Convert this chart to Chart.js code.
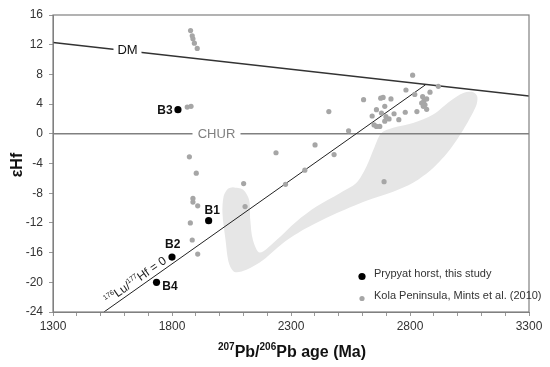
<!DOCTYPE html>
<html>
<head>
  <meta charset="UTF-8">
  <title>eHf vs age</title>
  <script src="https://cdn.jsdelivr.net/npm/chart.js"></script>
  <style>
    body { margin: 0; background: #fff; }
    #wrap { width: 550px; height: 367px; }
  </style>
</head>
<body>
<div id="wrap"><canvas id="hfChart" width="550" height="367"></canvas></div>
<script>
  // reference lines
  const dmAges = [1300, 3300];
  const dmHf = [12.3, 5.1];
  const churAges = [1300, 3300];
  const churHf = [0, 0];
  const luHfAges = [1514, 2865];
  const luHfHf = [-24, 6.6];

  // Prypyat horst samples
  const sampleNames = ['B1', 'B2', 'B3', 'B4'];
  const sampleAges = [1954, 1800, 1825, 1735];
  const sampleHf = [-11.7, -16.6, 3.25, -20.0];

  // Kola Peninsula, Mints et al. (2010)
  const kolaAges = [1878, 1885, 1888, 1894, 1906, 1864, 1880, 1873, 1902, 1888, 1888, 1908,
    1877, 1885, 1908, 2101, 2107, 2237, 2277, 2358, 2401, 2481, 2459, 2542, 2605, 2691,
    2641, 2659, 2677, 2687, 2720, 2694, 2680, 2699, 2712, 2694, 2733, 2753, 2649, 2659,
    2673, 2780, 2829, 2783, 2811, 2820, 2884, 2919, 2853, 2858, 2870, 2849, 2863, 2856, 2870];
  const kolaHf = [13.9, 13.2, 12.8, 12.2, 11.5, 3.6, 3.7, -3.1, -5.3, -8.7, -9.2, -9.7,
    -12.0, -14.3, -16.2, -6.7, -9.8, -2.55, -6.8, -4.9, -1.5, -2.8, 3.0, 0.4, 4.6, -6.45,
    2.4, 3.25, 4.8, 4.9, 4.7, 3.7, 2.8, 2.3, 2.0, 1.7, 2.7, 1.9, 1.2, 1.0,
    1.0, 2.9, 3.0, 5.9, 7.9, 5.3, 5.6, 6.4, 5.0, 4.4, 4.7, 4.15, 3.9, 3.7, 3.3];

  // shaded field outline
  const fieldAges = [2056, 2098, 2124, 2129, 2140, 2169, 2239, 2323, 2407, 2505, 2575, 2617,
    2652, 2680, 2729, 2813, 2897, 2968, 3024, 3066, 3083, 3077, 3024, 2968, 2897, 2813,
    2729, 2617, 2477, 2365, 2267, 2183, 2113, 2063, 2039, 2025, 2012, 2017, 2035, 2056];
  const fieldHf = [-7.2, -7.5, -8.9, -11.6, -14.3, -16.0, -14.3, -11.8, -9.8, -8.0, -6.6, -4.4,
    -1.7, 0.1, 0.8, 1.45, 2.6, 4.4, 5.5, 5.6, 5.0, 3.7, 0.55, -2.1, -4.6, -6.6,
    -7.8, -9.0, -10.9, -12.7, -14.7, -17.0, -18.3, -18.6, -17.4, -14.3, -10.7, -8.4, -7.4, -7.2];

  const pts = (xs, ys) => xs.map((x, i) => ({ x: x, y: ys[i] }));

  const font = "'Liberation Sans', Arial, sans-serif";

  // draw text with smaller raised parts: [[text, isSup], ...]
  function drawRich(ctx, parts, x, y, size, supSize, weight, align) {
    let total = 0;
    parts.forEach(p => {
      ctx.font = weight + ' ' + (p[1] ? supSize : size) + 'px ' + font;
      total += ctx.measureText(p[0]).width;
    });
    let cx = align === 'center' ? x - total / 2 : x;
    ctx.textBaseline = 'alphabetic';
    ctx.textAlign = 'left';
    parts.forEach(p => {
      ctx.font = weight + ' ' + (p[1] ? supSize : size) + 'px ' + font;
      ctx.fillText(p[0], cx, p[1] ? y - size * 0.42 : y);
      cx += ctx.measureText(p[0]).width;
    });
  }

  const decorPlugin = {
    id: 'decor',
    afterDatasetsDraw(chart) {
      const ctx = chart.ctx;
      const xs = chart.scales.x, ys = chart.scales.y;
      const a = chart.chartArea;
      ctx.save();

      // frame
      ctx.strokeStyle = '#808080';
      ctx.lineWidth = 1.2;
      ctx.strokeRect(a.left, a.top, a.right - a.left, a.bottom - a.top);

      // DM label on the line
      ctx.font = '13px ' + font;
      ctx.textAlign = 'center';
      ctx.textBaseline = 'middle';
      let px = xs.getPixelForValue(1613);
      let py = ys.getPixelForValue(dmHf[0] + (dmHf[1] - dmHf[0]) * (1613 - 1300) / 2000);
      ctx.fillStyle = '#fff';
      ctx.fillRect(px - 14, py - 7, 28, 14);
      ctx.fillStyle = '#111';
      ctx.fillText('DM', px, py);

      // CHUR label
      px = xs.getPixelForValue(1987);
      py = ys.getPixelForValue(0);
      ctx.font = '13px ' + font;
      ctx.fillStyle = '#fff';
      ctx.fillRect(px - 24, py - 7, 48, 14);
      ctx.fillStyle = '#808080';
      ctx.fillText('CHUR', px, py + 0.5);

      // sample labels
      const offs = [[3.5, -10], [0.7, -12], [-13, 1], [13.5, 4.7]];
      ctx.font = 'bold 12px ' + font;
      ctx.fillStyle = '#111';
      sampleNames.forEach((n, i) => {
        const sx = xs.getPixelForValue(sampleAges[i]);
        const sy = ys.getPixelForValue(sampleHf[i]);
        ctx.fillText(n, sx + offs[i][0], sy + offs[i][1]);
      });

      // 176Lu/177Hf = 0 label along the line
      const x0 = xs.getPixelForValue(luHfAges[0]), y0 = ys.getPixelForValue(luHfHf[0]);
      const x1 = xs.getPixelForValue(luHfAges[1]), y1 = ys.getPixelForValue(luHfHf[1]);
      const ang = Math.atan2(y1 - y0, x1 - x0);
      const t = 31 / (x1 - x0);
      ctx.translate(x0 + (x1 - x0) * t, y0 + (y1 - y0) * t);
      ctx.rotate(ang);
      ctx.fillStyle = '#222';
      drawRich(ctx, [['176', true], ['Lu/', false], ['177', true], ['Hf = 0', false]], 6, -4, 12, 7, 'normal', 'center');
      ctx.setTransform(1, 0, 0, 1, 0, 0);

      // legend
      const lx = 362, ly1 = 276.5, ly2 = 298.5;
      ctx.fillStyle = '#000';
      ctx.beginPath(); ctx.arc(lx, ly1, 3.6, 0, Math.PI * 2); ctx.fill();
      ctx.fillStyle = '#a6a6a6';
      ctx.beginPath(); ctx.arc(lx, ly2, 2.6, 0, Math.PI * 2); ctx.fill();
      ctx.font = '11px ' + font;
      ctx.textAlign = 'left';
      ctx.fillStyle = '#333';
      ctx.fillText('Prypyat horst, this study', 374, ly1);
      ctx.fillText('Kola Peninsula, Mints et al. (2010)', 374, ly2);

      // axis titles
      ctx.fillStyle = '#111';
      drawRich(ctx, [['207', true], ['Pb/', false], ['206', true], ['Pb age (Ma)', false]], 292, 357, 16, 10, 'bold', 'center');
      ctx.translate(22, 165);
      ctx.rotate(-Math.PI / 2);
      ctx.font = 'bold 16px ' + font;
      ctx.textAlign = 'center';
      ctx.textBaseline = 'alphabetic';
      ctx.fillText('\u03b5Hf', 0, 0);
      ctx.restore();
    }
  };

  new Chart(document.getElementById('hfChart'), {
    type: 'scatter',
    data: {
      datasets: [
        {
          label: 'Prypyat horst, this study',
          data: pts(sampleAges, sampleHf),
          backgroundColor: '#000', borderColor: '#000',
          pointRadius: 3.6, borderWidth: 0
        },
        {
          label: 'Kola Peninsula, Mints et al. (2010)',
          data: pts(kolaAges, kolaHf),
          backgroundColor: '#a6a6a6', borderColor: '#a6a6a6',
          pointRadius: 2.6, borderWidth: 0
        },
        {
          label: 'Lu/Hf = 0',
          data: pts(luHfAges, luHfHf),
          showLine: true, pointRadius: 0,
          borderColor: '#222', borderWidth: 1
        },
        {
          label: 'CHUR',
          data: pts(churAges, churHf),
          showLine: true, pointRadius: 0,
          borderColor: '#808080', borderWidth: 1.6
        },
        {
          label: 'DM',
          data: pts(dmAges, dmHf),
          showLine: true, pointRadius: 0,
          borderColor: '#333', borderWidth: 1.6
        },
        {
          label: 'field',
          data: pts(fieldAges, fieldHf),
          showLine: true, pointRadius: 0,
          borderWidth: 0, borderColor: 'rgba(0,0,0,0)',
          backgroundColor: '#e6e6e6',
          fill: 'shape', tension: 0.3
        }
      ]
    },
    options: {
      responsive: false,
      animation: false,
      layout: { padding: { top: 15, right: 21, left: 0, bottom: 0 } },
      plugins: {
        legend: { display: false },
        tooltip: { enabled: false }
      },
      scales: {
        x: {
          type: 'linear', min: 1300, max: 3300,
          afterFit: s => { s.height = 55; },
          ticks: {
            stepSize: 100, autoSkip: false, maxRotation: 0, padding: 3,
            color: '#333', font: { family: font, size: 12 },
            callback: v => ((v - 1300) % 500 === 0 ? v : '')
          },
          grid: { drawOnChartArea: false, tickLength: 4, color: '#999' },
          border: { color: '#808080' }
        },
        y: {
          type: 'linear', min: -24, max: 16,
          afterFit: s => { s.width = 53; },
          ticks: {
            stepSize: 4, padding: 6,
            color: '#333', font: { family: font, size: 12 }
          },
          grid: { drawOnChartArea: false, tickLength: 4, color: '#999' },
          border: { color: '#808080' }
        }
      }
    },
    plugins: [decorPlugin]
  });
</script>
</body>
</html>
